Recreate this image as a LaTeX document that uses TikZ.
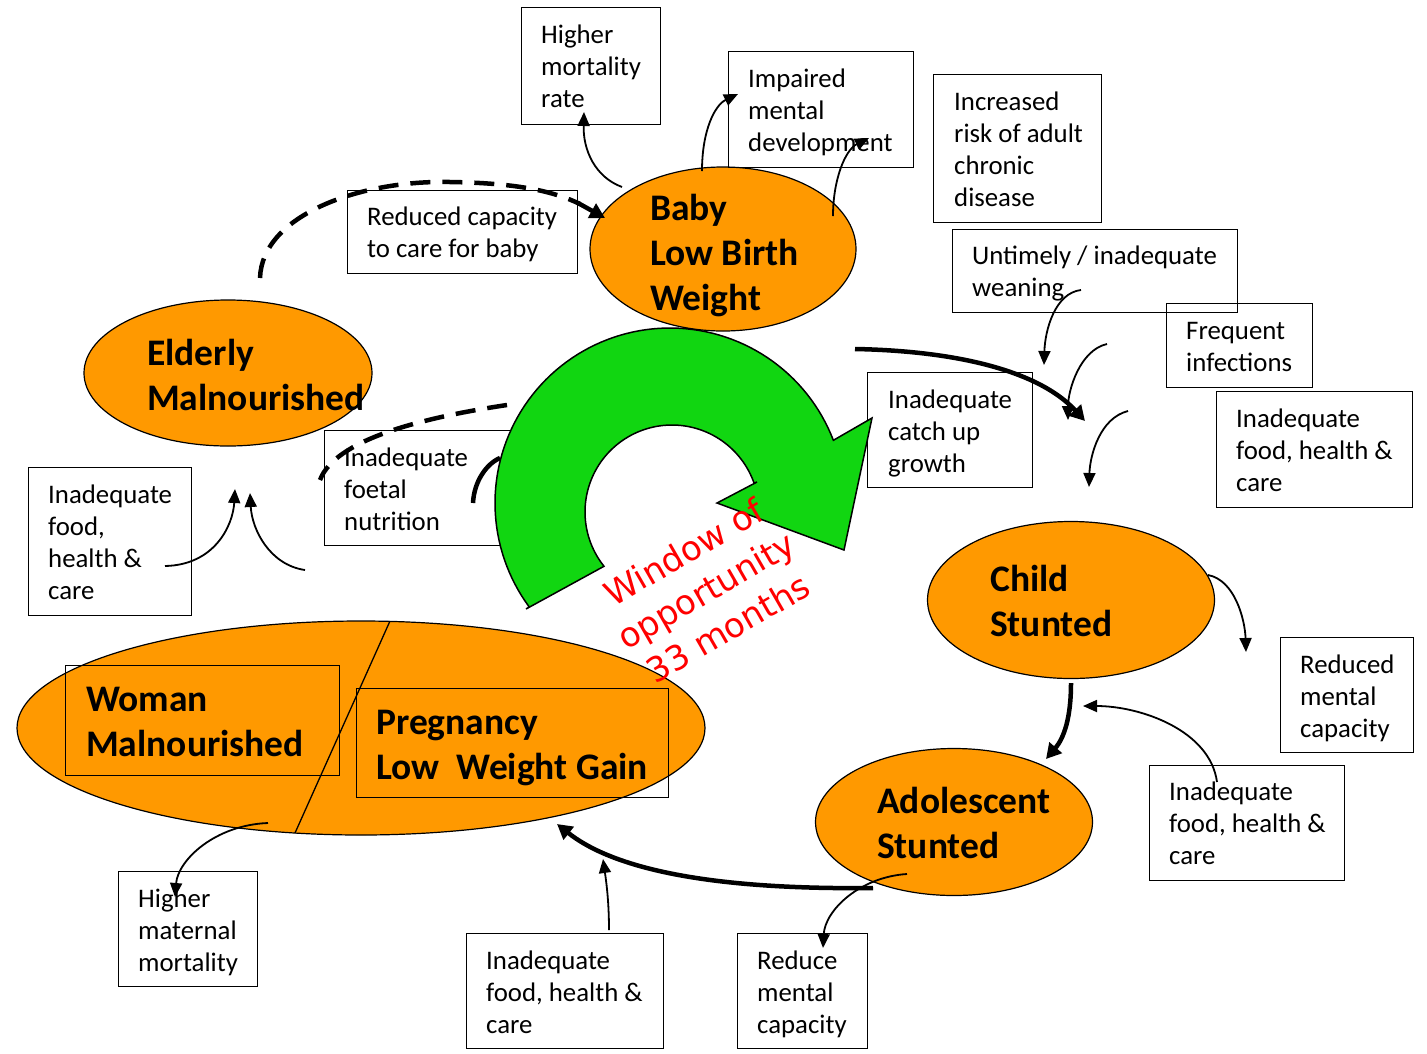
\documentclass[tikz,border=0pt]{standalone}
\usepackage{fontspec}
\setmainfont{Carlito}
\newfontfamily\comicfont{DejaVu Sans}
\usetikzlibrary{arrows.meta,shapes.geometric}
\definecolor{orng}{RGB}{255,153,0}
\definecolor{grn}{RGB}{17,214,17}
\begin{document}
\begin{tikzpicture}[x=1pt,y=-1pt,
  box/.style={draw, line width=1.3pt, inner sep=0pt, anchor=north west},
  txt/.style={inner sep=0pt, anchor=north west, align=left, font=\fontsize{26.8}{32}\selectfont},
  big/.style={inner sep=0pt, anchor=north west, align=left, font=\fontsize{37.5}{45}\selectfont\bfseries},
  oval/.style={draw, line width=1.2pt, fill=orng, ellipse, inner sep=0pt},
  thinarr/.style={line width=1.8pt, -{Triangle[length=14pt,width=12pt]}},
  thickarr/.style={line width=4.5pt, -{Triangle[length=15pt,width=16pt]}},
  dasharr/.style={line width=4.5pt, dash pattern=on 20pt off 12pt},
  thickline/.style={line width=4.5pt}
]
\useasboundingbox (0,0) rectangle (1427,1053);
\fill[white] (0,0) rectangle (1427,1053);

% ellipses
\node[oval, minimum width=688pt, minimum height=214pt] (woman) at (361,728) {};
\draw[line width=1.3pt] (390,621) -- (295,833);
\node[oval, minimum width=288pt, minimum height=146pt] (elderly) at (228,373) {};
\node[oval, minimum width=287pt, minimum height=157pt] (child) at (1071,600) {};
\node[oval, minimum width=277pt, minimum height=147pt] (adol) at (954,822) {};
\node[oval, minimum width=266pt, minimum height=164pt] (baby) at (723,249) {};

% boxes
\node[box, minimum width=139pt, minimum height=117pt] (bmort) at (521,7) {};
\node[box, minimum width=185pt, minimum height=116pt] (bimp) at (728,51) {};
\node[box, minimum width=168pt, minimum height=148pt] (binc) at (933,74) {};
\node[box, minimum width=230pt, minimum height=83pt] (bred) at (347,190) {};
\node[box, minimum width=285pt, minimum height=83pt] (bunt) at (952,229) {};
\node[box, minimum width=146pt, minimum height=84pt] (bfreq) at (1166,303) {};
\node[box, minimum width=196pt, minimum height=116pt] (bfr1) at (1216,391) {};
\node[box, minimum width=165pt, minimum height=115pt] (bcatch) at (867,372) {};
\node[box, minimum width=190pt, minimum height=115pt] (bfoet) at (324,430) {};
\node[box, minimum width=163pt, minimum height=148pt] (bfl) at (28,467) {};
\node[box, minimum width=133pt, minimum height=115pt] (brm) at (1280,637) {};
\node[box, minimum width=195pt, minimum height=115pt] (bfr2) at (1149,765) {};
\node[box, minimum width=139pt, minimum height=115pt] (bmat) at (118,871) {};
\node[box, minimum width=197pt, minimum height=115pt] (bfb) at (466,933) {};
\node[box, minimum width=130pt, minimum height=115pt] (brdm) at (737,933) {};
\node[box, minimum width=274pt, minimum height=110pt] (bwoman) at (65,665) {};
\node[box, minimum width=312pt, minimum height=109pt] (bpreg) at (356,688) {};

% connectors under the green arrow
\coordinate (d2s) at (507,405);
\coordinate (d2e) at (320,480);
\draw[dasharr] (d2s) .. controls (420,418) and (335,440) .. (d2e);
\coordinate (fa1) at (473,503);
\coordinate (fa2) at (500,458);
\draw[thickline] (fa1) .. controls (474,482) and (486,464) .. (fa2);

% green curved arrow
\draw[line width=1.5pt, fill=grn] (526,609)
  -- plot[domain=143.6:339, samples=90] ({670+175*cos(\x)}, {503+175*sin(\x)})
  -- (872,418) -- (844,550) -- (717,503) -- (757,482)
  -- plot[domain=340.6:141.4, samples=90] ({672+87*cos(\x)}, {512+87*sin(\x)})
  -- cycle;

% texts
\node[txt] (tmort) at (541,20.6) {\strut Higher\\mortality\\rate};
\node[txt] (timp) at (748,64.6) {\strut Impaired\\mental\\development};
\node[txt] (tinc) at (954,87.6) {\strut Increased\\risk of adult\\chronic\\disease};
\node[txt] (tred) at (367,202.6) {\strut Reduced capacity\\to care for baby};
\node[txt] (tunt) at (972,241.6) {\strut Untimely / inadequate\\weaning};
\node[txt] (tfreq) at (1186,316.6) {\strut Frequent\\infections};
\node[txt] (tfr1) at (1236,404.6) {\strut Inadequate\\food, health \&\\care};
\node[txt] (tcatch) at (888,385.6) {\strut Inadequate\\catch up\\growth};
\node[txt] (tfoet) at (344,443.6) {\strut Inadequate\\foetal\\nutrition};
\node[txt] (tfl) at (48,480.6) {\strut Inadequate\\food,\\health \&\\care};
\node[txt] (trm) at (1300,650.6) {\strut Reduced\\mental\\capacity};
\node[txt] (tfr2) at (1169,777.6) {\strut Inadequate\\food, health \&\\care};
\node[txt] (tmat) at (138,884.6) {\strut Higher\\maternal\\mortality};
\node[txt] (tfb) at (486,946.6) {\strut Inadequate\\food, health \&\\care};
\node[txt] (trdm) at (757,946.6) {\strut Reduce\\mental\\capacity};

\node[big] (tbaby) at (650,188.5) {\strut Baby\\Low Birth\\Weight};
\node[big] (telder) at (147,333.5) {\strut Elderly\\Malnourished};
\node[big] (tchild) at (990,559.5) {\strut Child\\Stunted};
\node[big] (tadol) at (877,781.5) {\strut Adolescent\\Stunted};
\node[big] (twoman) at (86,679.5) {\strut Woman\\Malnourished};
\node[big] (tpreg) at (376,702.5) {\strut Pregnancy\\Low~ Weight Gain};

% dashed arrow elderly -> baby
\coordinate (d1s) at (260,278);
\coordinate (d1e) at (605,218);
\draw[dasharr] (d1s) .. controls (262,215) and (360,180) .. (450,182)
  .. controls (520,183) and (555,192) .. (580,204);
\draw[line width=4.5pt, -{Triangle[length=15pt,width=16pt]}] (578,203) -- (d1e);

% thin connectors
\coordinate (c1s) at (622,187);  \coordinate (c1e) at (584,112);
\draw[thinarr] (c1s) .. controls (595,177) and (583,150) .. (c1e);
\coordinate (c2s) at (702,171);  \coordinate (c2e) at (738,94);
\draw[thinarr] (c2s) .. controls (702,130) and (715,105) .. (c2e);
\coordinate (c3s) at (833,216);  \coordinate (c3e) at (869,138);
\draw[thinarr] (c3s) .. controls (833,180) and (845,150) .. (c3e);
\coordinate (c4s) at (1081,290); \coordinate (c4e) at (1044,365);
\draw[thinarr] (c4s) .. controls (1055,293) and (1045,330) .. (c4e);
\coordinate (c5s) at (1107,344); \coordinate (c5e) at (1068,420);
\draw[thinarr] (c5s) .. controls (1080,350) and (1068,390) .. (c5e);
\coordinate (c6s) at (1128,411); \coordinate (c6e) at (1089,487);
\draw[thinarr] (c6s) .. controls (1100,418) and (1090,455) .. (c6e);
\coordinate (c7s) at (1208,575); \coordinate (c7e) at (1246,652);
\draw[thinarr] (c7s) .. controls (1235,580) and (1245,620) .. (c7e);
\coordinate (c8s) at (1217,782); \coordinate (c8e) at (1083,706);
\draw[thinarr] (c8s) .. controls (1210,730) and (1140,706) .. (c8e);
\coordinate (c9s) at (907,874);  \coordinate (c9e) at (823,948);
\draw[thinarr] (c9s) .. controls (860,877) and (825,910) .. (c9e);
\coordinate (c10s) at (609,930); \coordinate (c10e) at (603,859);
\draw[thinarr] (c10s) .. controls (609,900) and (606,880) .. (c10e);
\coordinate (c11s) at (268,823); \coordinate (c11e) at (175,897);
\draw[thinarr] (c11s) .. controls (215,825) and (178,860) .. (c11e);
\coordinate (c12s) at (165,566); \coordinate (c12e) at (235,489);
\draw[thinarr] (c12s) .. controls (215,565) and (233,525) .. (c12e);
\coordinate (c13s) at (305,570); \coordinate (c13e) at (250,493);
\draw[thinarr] (c13s) .. controls (270,565) and (252,530) .. (c13e);

% thick connectors
\coordinate (k1s) at (855,349); \coordinate (k1e) at (1085,421);
\draw[thickarr] (k1s) .. controls (960,351) and (1040,372) .. (k1e);
\coordinate (k2s) at (1071,683); \coordinate (k2e) at (1046,759);
\draw[thickarr] (k2s) .. controls (1071,718) and (1064,738) .. (k2e);
\coordinate (k3s) at (873,888); \coordinate (k3e) at (557,824);
\draw[thickarr] (k3s) .. controls (700,890) and (610,866) .. (k3e);

% red label
\node[rotate=30, text=red, align=center, inner sep=0pt,
  font=\comicfont\fontsize{34}{44}\selectfont] (window) at (706,590) {Window of\\opportunity\\33 months};
\end{tikzpicture}
\end{document}
